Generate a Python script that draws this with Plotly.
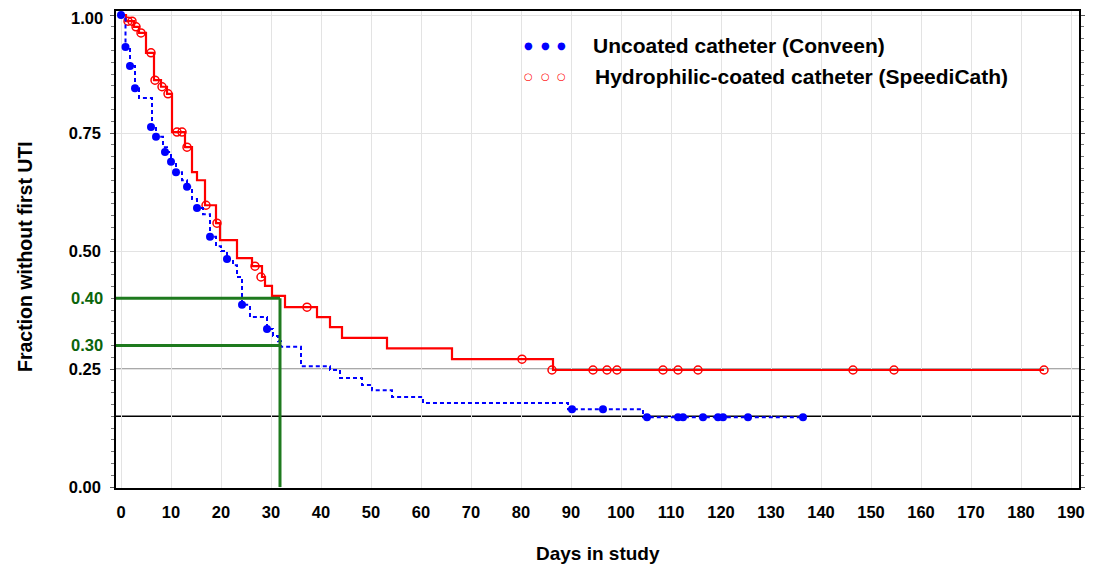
import plotly.graph_objects as go

# ---- data ----
uncoated_t = [0, 0.9, 1.8, 2.8, 3.6, 6.2, 7.0, 8.4, 9.2, 10.0, 11.0, 12.2, 13.2, 14.2, 15.2, 16.4,
              17.8, 19.0, 20.0, 21.2, 22.4, 23.2, 24.2, 25.8, 29.2, 30.4, 31.4, 32.0, 36.0, 41.8,
              43.8, 48.2, 50.2, 54.2, 60.4, 89.4, 104.4, 136.4]
uncoated_s = [1.0, 0.932, 0.892, 0.845, 0.824, 0.763, 0.742, 0.72, 0.710, 0.689, 0.667, 0.65, 0.636,
              0.61, 0.591, 0.578, 0.530, 0.51, 0.50, 0.483, 0.470, 0.445, 0.386, 0.360, 0.335, 0.32,
              0.309, 0.297, 0.256, 0.248, 0.231, 0.216, 0.205, 0.191, 0.178, 0.165, 0.148, 0.148]
uncoated_cens_t = [0, 0.9, 1.8, 2.8, 6.0, 7.0, 8.8, 10.0, 11.0, 13.2, 15.2, 17.8, 21.2, 24.2, 29.2,
                   90.2, 96.4, 105.2, 111.4, 112.4, 116.4, 119.4, 120.4, 125.4, 136.4]
uncoated_cens_s = [1.0, 0.932, 0.892, 0.845, 0.763, 0.742, 0.710, 0.689, 0.667, 0.636, 0.591, 0.530,
                   0.483, 0.386, 0.335, 0.165, 0.165, 0.148, 0.148, 0.148, 0.148, 0.148, 0.148,
                   0.148, 0.148]

coated_t = [0, 1.0, 2.6, 3.6, 5.0, 6.6, 8.0, 9.2, 10.2, 12.8, 14.2, 15.2, 16.8, 19.0, 19.8, 23.2,
            26.2, 28.2, 28.8, 30.2, 32.8, 39.2, 41.8, 44.2, 53.2, 66.2, 86.4, 184.6]
coated_s = [1.0, 0.987, 0.975, 0.962, 0.92, 0.862, 0.848, 0.833, 0.752, 0.720, 0.667, 0.650, 0.597,
            0.559, 0.523, 0.485, 0.468, 0.445, 0.426, 0.405, 0.381, 0.360, 0.339, 0.316, 0.294,
            0.271, 0.248, 0.248]
coated_cens_t = [1.4, 2.2, 3.0, 4.0, 6.0, 6.8, 8.2, 9.4, 11.2, 12.2, 13.2, 17.0, 19.2, 26.8, 28.0,
                 37.2, 80.2, 86.2, 94.4, 97.2, 99.2, 108.4, 111.4, 115.4, 146.4, 154.6, 184.6]
coated_cens_s = [0.987, 0.987, 0.975, 0.962, 0.92, 0.862, 0.848, 0.833, 0.752, 0.752, 0.720, 0.597,
                 0.559, 0.468, 0.445, 0.381, 0.271, 0.248, 0.248, 0.248, 0.248, 0.248, 0.248,
                 0.248, 0.248, 0.248, 0.248]

legend_labels = ["Uncoated catheter (Conveen)", "Hydrophilic-coated catheter (SpeediCath)"]
x_ticks = list(range(0, 200, 10))
y_ticks = [0.0, 0.25, 0.50, 0.75, 1.00]
ref_levels = [0.25, 0.15]
median_day = 31.8
green_levels = [0.40, 0.30]

FONT = "Liberation Sans, Arial, sans-serif"
BLUE = "#0000ff"
RED = "#ff0000"
GREEN = "#1e7a1e"
GREEN_TXT = "#0b650b"

# page body has an 8px margin; figure is sized to fit the 1099x567 window
OFF = 8
W, H = 1099 - OFF, 567 - OFF
# plot-area edges in page pixels
Lp, Rp, Tp, Bp = 116, 1079, 11, 488
L, R, T, B = Lp - OFF, Rp - OFF, Tp - OFF, Bp - OFF

def px(xp):
    return (xp - OFF - L) / (R - L)
def py(yp):
    return (B - (yp - OFF)) / (B - T)

fig = go.Figure()

# reference horizontal lines
for lv, col in zip(ref_levels, ["#555555", "#000000"]):
    fig.add_shape(type="line", xref="paper", x0=0, x1=1, yref="y", y0=lv, y1=lv,
                  line=dict(color=col, width=1.3), layer="below")

# green guide lines
for lv in green_levels:
    fig.add_shape(type="line", xref="x", x0=-1.0, x1=median_day, yref="y", y0=lv, y1=lv,
                  line=dict(color=GREEN, width=3))
fig.add_shape(type="line", xref="x", x0=median_day, x1=median_day, yref="y", y0=0,
              y1=max(green_levels), line=dict(color=GREEN, width=3))

fig.add_trace(go.Scatter(x=coated_t, y=coated_s, mode="lines", line_shape="hv",
                         line=dict(color=RED, width=2.2), showlegend=False))
fig.add_trace(go.Scatter(x=coated_cens_t, y=coated_cens_s, mode="markers",
                         marker=dict(symbol="circle-open", size=8, color=RED,
                                     line=dict(width=1.5, color=RED)), showlegend=False))
fig.add_trace(go.Scatter(x=uncoated_t, y=uncoated_s, mode="lines", line_shape="hv",
                         line=dict(color=BLUE, width=2, dash="4px,3px"), showlegend=False))
fig.add_trace(go.Scatter(x=uncoated_cens_t, y=uncoated_cens_s, mode="markers",
                         marker=dict(symbol="circle", size=8, color=BLUE), showlegend=False))

ann = []
# green tick labels
for lv in green_levels:
    ann.append(dict(x=px(105), xref="paper", y=lv, yref="y", text=f"{lv:.2f}", showarrow=False,
                    xanchor="right", yanchor="middle",
                    font=dict(family=FONT, size=16.5, color=GREEN_TXT, weight="bold")))
# top tick label (kept as annotation so it is not hidden at the figure edge)
ann.append(dict(x=px(105), xref="paper", y=py(18), yref="paper", text=f"{y_ticks[-1]:.2f}",
                showarrow=False, xanchor="right", yanchor="middle",
                font=dict(family=FONT, size=16.5, color="black", weight="bold")))
# legend
for i, (lab, col, sym, yy) in enumerate([(legend_labels[0], BLUE, "●", 45),
                                           (legend_labels[1], RED, "○", 77)]):
    for xx in [528, 545, 561]:
        ann.append(dict(x=px(xx), y=py(yy), xref="paper", yref="paper", text=sym, showarrow=False,
                        xanchor="center", yanchor="middle",
                        font=dict(family="DejaVu Sans", size=10, color=col)))
    ann.append(dict(x=px(591 + 2 * i), y=py(yy), xref="paper", yref="paper", text=lab,
                    showarrow=False, xanchor="left", yanchor="middle",
                    font=dict(family=FONT, size=21, color="black", weight="bold")))
# axis titles
ann.append(dict(x=px(598), y=py(553), xref="paper", yref="paper", text="Days in study",
                showarrow=False, xanchor="center", yanchor="middle",
                font=dict(family=FONT, size=19, color="black", weight="bold")))
ann.append(dict(x=px(25), y=py(257), xref="paper", yref="paper", text="Fraction without first UTI",
                showarrow=False, xanchor="center", yanchor="middle", textangle=-90,
                font=dict(family=FONT, size=19.5, color="black", weight="bold")))

fig.update_layout(
    width=W, height=H,
    margin=dict(l=L, r=W - R, t=T, b=H - B, autoexpand=False),
    paper_bgcolor="white", plot_bgcolor="white",
    showlegend=False,
    annotations=ann,
    xaxis=dict(range=[-1.0, 191.6], tickvals=x_ticks, ticktext=[str(v) for v in x_ticks],
               showgrid=True, gridcolor="#e3e3e3", gridwidth=1, zeroline=False,
               showline=True, linecolor="black", linewidth=1.5, mirror=True,
               ticks="", ticklabelstandoff=8, automargin=False,
               tickfont=dict(family=FONT, size=16.5, color="black", weight="bold")),
    yaxis=dict(range=[-0.002, 1.0085], tickvals=y_ticks,
               ticktext=[f"{v:.2f}" for v in y_ticks[:-1]] + [""],
               showgrid=True, gridcolor="#e3e3e3", gridwidth=1, zeroline=False,
               showline=True, linecolor="black", linewidth=1.5, mirror="allticks",
               ticks="outside", ticklen=4, tickcolor="#555555", ticklabelstandoff=6,
               automargin=False,
               minor=dict(dtick=0.025, ticks="outside", ticklen=3, tickcolor="#777777",
                          showgrid=False),
               tickfont=dict(family=FONT, size=16.5, color="black", weight="bold")),
)

fig.write_html("out.html")
